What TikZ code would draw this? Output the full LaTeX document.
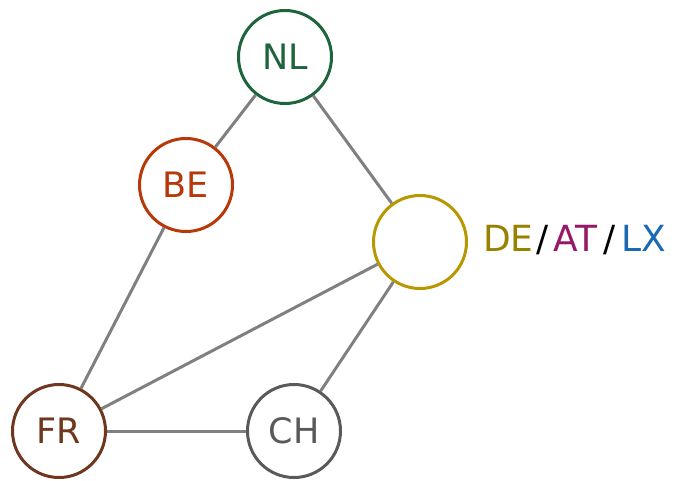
\documentclass[tikz,border=0pt]{standalone}
\usepackage{fontspec}
\setmainfont{DejaVu Sans}
\definecolor{nlc}{RGB}{30,100,60}
\definecolor{bec}{RGB}{184,56,10}
\definecolor{dec}{RGB}{184,152,0}
\definecolor{detxt}{RGB}{150,130,0}
\definecolor{atc}{RGB}{150,25,105}
\definecolor{lxc}{RGB}{25,105,180}
\definecolor{frc}{RGB}{110,55,30}
\definecolor{chc}{RGB}{90,90,90}
\definecolor{edgec}{RGB}{128,128,128}
\begin{document}
\begin{tikzpicture}[x=1pt,y=-1pt,
  country/.style={circle,draw=#1,text=#1,line width=3pt,minimum size=93pt,inner sep=0pt,font=\fontsize{35}{40}\selectfont,fill=white},
  link/.style={draw=edgec,line width=3pt}]
\useasboundingbox (0,0) rectangle (675,480);
\node[country=nlc] (NL) at (285,57) {NL};
\node[country=bec] (BE) at (186,185) {BE};
\node[country=dec] (DE) at (420,242) {};
\node[country=frc] (FR) at (59,431) {FR};
\node[country=chc] (CH) at (294,431) {CH};
\node[anchor=west,inner sep=0pt,font=\fontsize{36}{40}\selectfont] (lbl) at (483,240) {\textcolor{detxt}{DE}\hspace{3pt}/\hspace{5pt}\textcolor{atc}{AT}\hspace{6pt}/\hspace{6pt}\textcolor{lxc}{LX}};
\draw[link] (NL) -- (BE);
\draw[link] (NL) -- (DE);
\draw[link] (BE) -- (FR);
\draw[link] (DE) -- (FR);
\draw[link] (DE) -- (CH);
\draw[link] (FR) -- (CH);
\end{tikzpicture}
\end{document}
